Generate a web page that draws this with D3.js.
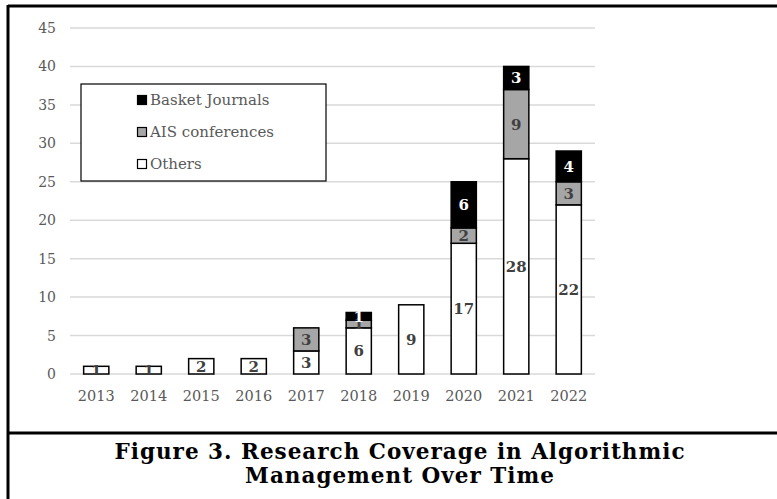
<!DOCTYPE html>
<html>
<head>
<meta charset="utf-8">
<script src="https://cdn.jsdelivr.net/npm/d3@7"></script>
<style>
  body { margin: 0; background: #fff; }
  svg { display: block; }
</style>
</head>
<body>
<div id="chart"></div>
<script>
var years = ["2013","2014","2015","2016","2017","2018","2019","2020","2021","2022"];
var others = [1, 1, 2, 2, 3, 6, 9, 17, 28, 22];
var aisConf = [0, 0, 0, 0, 3, 1, 0, 2, 9, 3];
var basket = [0, 0, 0, 0, 0, 1, 0, 6, 3, 4];
var seriesNames = ["Others", "AIS conferences", "Basket Journals"];
var yTicks = [0, 5, 10, 15, 20, 25, 30, 35, 40, 45];
var titleLines = ["Figure 3. Research Coverage in Algorithmic", "Management Over Time"];

function init(){
    var w = 777, h = 499;
    var serif = "'DejaVu Serif', serif";
    var fills = ["#ffffff", "#a6a6a6", "#000000"];
    var labelColors = ["#404040", "#404040", "#ffffff"];

    var svg = d3.select("#chart").append("svg")
        .attr("width", w).attr("height", h);

    // frame
    svg.append("line").attr("x1", 8).attr("x2", w).attr("y1", 6).attr("y2", 6)
        .attr("stroke", "#000").attr("stroke-width", 3);
    svg.append("line").attr("x1", 8).attr("x2", 8).attr("y1", 5).attr("y2", h)
        .attr("stroke", "#000").attr("stroke-width", 3);
    svg.append("line").attr("x1", 8).attr("x2", w).attr("y1", 433).attr("y2", 433)
        .attr("stroke", "#000").attr("stroke-width", 3);

    var x = d3.scaleBand().domain(years).range([70, 595])
        .paddingInner(0.52).paddingOuter(0.26);
    var y = d3.scaleLinear().domain([0, 45]).range([374, 28]);

    // gridlines
    svg.append("g").selectAll("line").data(yTicks).enter().append("line")
        .attr("x1", 70).attr("x2", 595)
        .attr("y1", function(d){ return y(d); })
        .attr("y2", function(d){ return y(d); })
        .attr("stroke", "#d9d9d9").attr("stroke-width", 1.5);

    var yAxis = svg.append("g").attr("transform", "translate(56,0)")
        .call(d3.axisLeft(y).tickValues(yTicks).tickSize(0).tickPadding(0));
    yAxis.select(".domain").remove();
    yAxis.selectAll("text").attr("font-family", serif).attr("font-size", 14)
        .attr("fill", "#595959");

    var xAxis = svg.append("g").attr("transform", "translate(0,374)")
        .call(d3.axisBottom(x).tickSize(0).tickPadding(17));
    xAxis.select(".domain").remove();
    xAxis.selectAll("text").attr("font-family", serif).attr("font-size", 14.5)
        .attr("fill", "#595959");

    var table = years.map(function(yr, i){
        return {year: yr, Others: others[i], "AIS conferences": aisConf[i], "Basket Journals": basket[i]};
    });
    var stacked = d3.stack().keys(seriesNames)(table);

    svg.append("clipPath").attr("id", "plotclip").append("rect")
        .attr("x", 60).attr("y", 0).attr("width", 560).attr("height", 374);

    var groups = svg.selectAll("g.series").data(stacked).enter().append("g")
        .attr("class", "series");

    groups.selectAll("rect").data(function(d){ return d.filter(function(p){ return p[1] > p[0]; }); })
        .enter().append("rect")
        .attr("x", function(d){ return x(d.data.year); })
        .attr("width", x.bandwidth())
        .attr("y", function(d){ return y(d[1]); })
        .attr("height", function(d){ return y(d[0]) - y(d[1]); })
        .attr("fill", function(){ return fills[d3.select(this.parentNode).datum().index]; })
        .attr("stroke", "#000").attr("stroke-width", 1.5);

    var labels = svg.append("g").attr("clip-path", "url(#plotclip)");
    stacked.forEach(function(s){
        labels.selectAll(null).data(s.filter(function(p){ return p[1] > p[0]; }))
            .enter().append("text")
            .attr("x", function(d){ return x(d.data.year) + x.bandwidth() / 2; })
            .attr("y", function(d){ return (y(d[0]) + y(d[1])) / 2; })
            .attr("dy", "0.36em")
            .attr("text-anchor", "middle")
            .attr("font-family", serif).attr("font-weight", "bold").attr("font-size", 15)
            .attr("fill", labelColors[s.index])
            .text(function(d){ return d[1] - d[0]; });
    });

    // legend
    var legend = svg.append("g");
    legend.append("rect").attr("x", 81).attr("y", 84).attr("width", 245).attr("height", 97)
        .attr("fill", "#fff").attr("stroke", "#000").attr("stroke-width", 1.2);
    var legendOrder = [2, 1, 0];
    legendOrder.forEach(function(si, k){
        var cy = 100 + k * 32;
        legend.append("rect").attr("x", 137.5).attr("y", cy - 4.5).attr("width", 9).attr("height", 9)
            .attr("fill", fills[si]).attr("stroke", "#000").attr("stroke-width", 1.2);
        legend.append("text").attr("x", 150).attr("y", cy).attr("dy", "0.35em")
            .attr("font-family", serif).attr("font-size", 15).attr("fill", "#595959")
            .text(seriesNames[si]);
    });

    // caption
    svg.selectAll("text.title").data(titleLines).enter().append("text")
        .attr("class", "title")
        .attr("x", 400).attr("y", function(d, i){ return 459 + i * 24; })
        .attr("text-anchor", "middle")
        .attr("font-family", serif).attr("font-weight", "bold").attr("font-size", 21.5)
        .attr("letter-spacing", 1)
        .attr("fill", "#000")
        .text(function(d){ return d; });
}
window.onload = init;
</script>
</body>
</html>
